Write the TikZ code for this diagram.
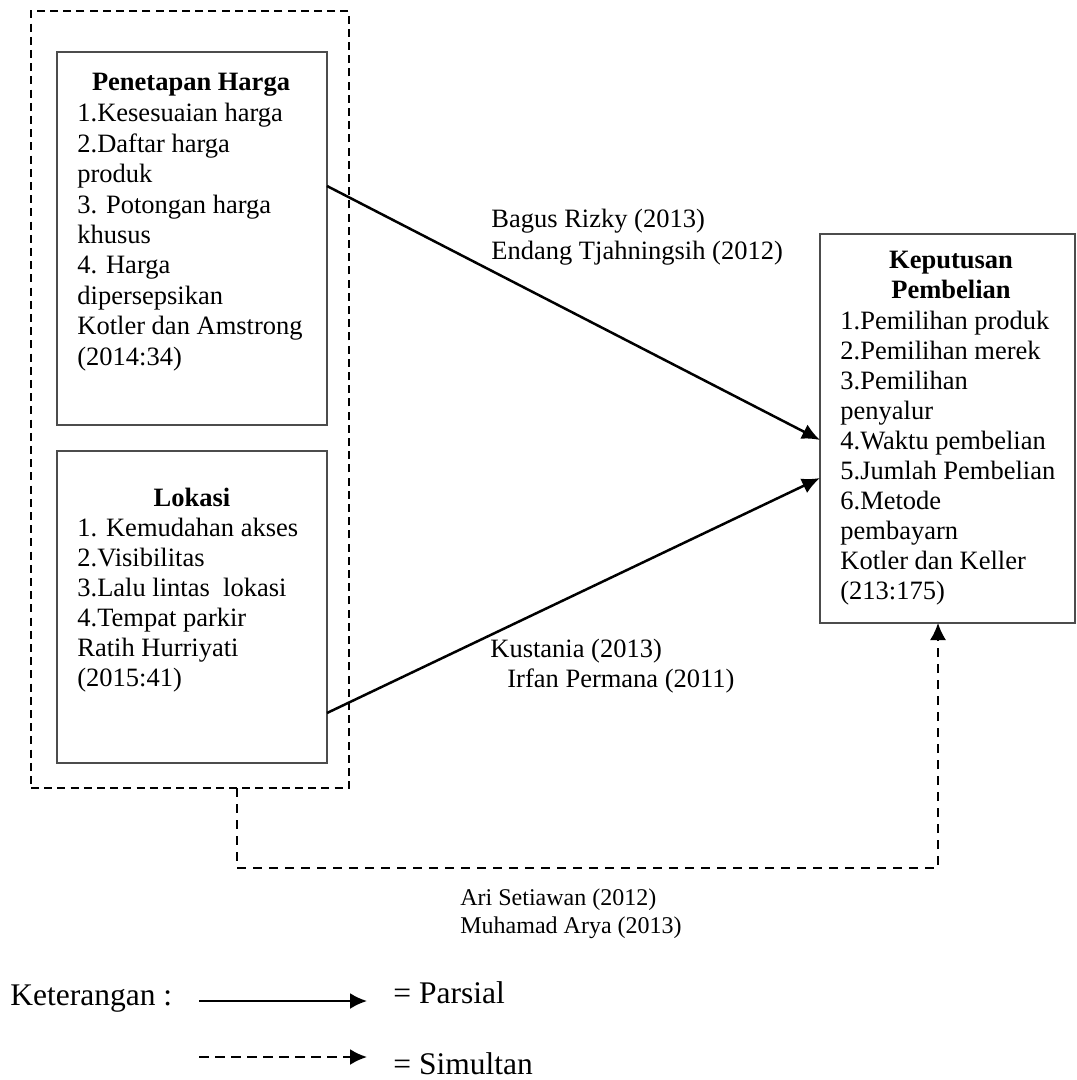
\documentclass[tikz,border=0pt]{standalone}
\usepackage{fontspec}
\setmainfont{Liberation Serif}
\usetikzlibrary{arrows.meta,calc}
\begin{document}
\begin{tikzpicture}[x=0.5pt,y=-0.5pt,
  box/.style={draw=black!70,line width=0.6pt,rectangle,inner sep=0pt,outer sep=0pt},
  outerbox/.style={draw=black,line width=0.7pt,dash pattern=on 4pt off 2.6pt,rectangle,inner sep=0pt,outer sep=0pt},
  txt/.style={anchor=base west,inner sep=0pt,font=\fontsize{13.25}{15}\selectfont},
  ttl/.style={anchor=base,inner sep=0pt,font=\fontsize{13.25}{15}\selectfont\bfseries},
  lbl/.style={anchor=base west,inner sep=0pt,font=\fontsize{13.25}{15}\selectfont},
  small/.style={anchor=base west,inner sep=0pt,font=\fontsize{12}{14}\selectfont},
  big/.style={anchor=base west,inner sep=0pt,font=\fontsize{15.75}{18}\selectfont},
  parsial/.style={draw=black,line width=1.25pt,-{Latex[length=9pt,width=8pt]}},
  simultan/.style={draw=black,line width=0.9pt,dash pattern=on 4.5pt off 3.5pt,-{Latex[length=8.5pt,width=8pt]}}
]
\useasboundingbox (0,0) rectangle (1076,1080);

% boxes
\node[outerbox,minimum width=159pt,minimum height=388.5pt] (outer) at (190,399.5) {};
\node[box,minimum width=135pt,minimum height=186.5pt] (b1) at (192,238.5) {};
\node[box,minimum width=135pt,minimum height=156pt] (b2) at (192,607) {};
\node[box,minimum width=127.5pt,minimum height=194.5pt] (b3) at (947.5,428.5) {};

% box 1 text
\node[ttl] (b1t) at (191,91) {Penetapan Harga};
\foreach \s [count=\i] in {1.Kesesuaian harga,2.Daftar harga,produk,3. Potongan harga,khusus,4. Harga,dipersepsikan,Kotler dan Amstrong,(2014:34)}
  \node[txt] (b1l\i) at (77,{122+30.4*(\i-1)}) {\s};

% box 2 text
\node[ttl] (b2t) at (192,506) {Lokasi};
\foreach \s [count=\i] in {1. Kemudahan akses,2.Visibilitas,3.Lalu lintas\ \ lokasi,4.Tempat parkir,Ratih Hurriyati,(2015:41)}
  \node[txt] (b2l\i) at (77,{536+30*(\i-1)}) {\s};

% box 3 text
\node[ttl] (b3t1) at (951,269) {Keputusan};
\node[ttl] (b3t2) at (951,299) {Pembelian};
\foreach \s [count=\i] in {1.Pemilihan produk,2.Pemilihan merek,3.Pemilihan,penyalur,4.Waktu pembelian,5.Jumlah Pembelian,6.Metode,pembayarn,Kotler dan Keller,(213:175)}
  \node[txt] (b3l\i) at (840,{329+30*(\i-1)}) {\s};

% connector labels
\node[lbl] (la1) at (491,228) {Bagus Rizky (2013)};
\node[lbl] (la2) at (491,260) {Endang Tjahningsih (2012)};
\node[lbl] (lb1) at (490,657) {Kustania (2013)};
\node[lbl] (lb2) at (507,687) {Irfan Permana (2011)};
\node[small] (lc1) at (460,905) {Ari Setiawan (2012)};
\node[small] (lc2) at (460,933) {Muhamad Arya (2013)};

% connectors
\coordinate (a1s) at ($(b1.east)+(0,-52.5)$);
\coordinate (a1e) at ($(b3.west)+(0,11.5)$);
\coordinate (a2s) at ($(b2.east)+(0,106)$);
\coordinate (a2e) at ($(b3.west)+(0,49.5)$);
\draw[parsial] (a1s) -- (a1e);
\draw[parsial] (a2s) -- (a2e);

\coordinate (ds) at ($(outer.south)+(47,0)$);
\coordinate (de) at ($(b3.south)+(-9.5,0)$);
\draw[simultan] (ds) -- ++(0,80) -| (de);

% legend
\node[big] (ket) at (10,1005) {Keterangan :};
\coordinate (l1s) at (199,1001);
\coordinate (l1e) at (367,1001);
\coordinate (l2s) at (199,1057);
\coordinate (l2e) at (367,1057);
\draw[draw=black,line width=1.1pt,-{Latex[length=8.5pt,width=8pt]}] (l1s) -- (l1e);
\draw[draw=black,line width=1.1pt,dash pattern=on 5pt off 3pt,-{Latex[length=8.5pt,width=8pt]}] (l2s) -- (l2e);
\node[big] (par) at (393,1003) {= Parsial};
\node[big] (sim) at (393,1074) {= Simultan};
\end{tikzpicture}
\end{document}
